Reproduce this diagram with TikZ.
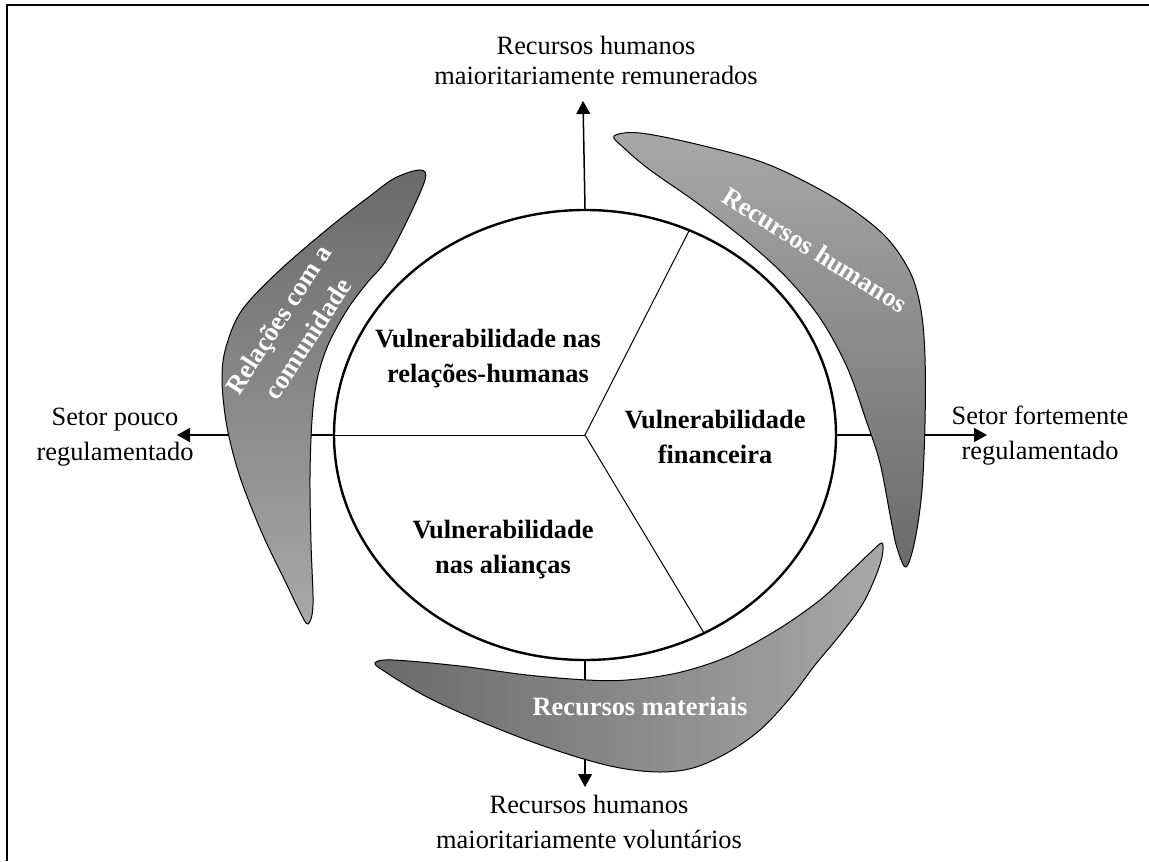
\documentclass[tikz,border=0pt]{standalone}
\usepackage{fontspec}
\setmainfont{Liberation Serif}
\usetikzlibrary{arrows.meta,shapes.geometric}
\definecolor{shadelight}{HTML}{A8A8A8}
\definecolor{shadedark}{HTML}{6A6A6A}
\begin{document}
\begin{tikzpicture}[x=0.5pt,y=-0.5pt,
  lbl/.style={font=\fontsize{13.2}{17.5}\selectfont, align=center, inner sep=0pt},
  vtext/.style={font=\bfseries\fontsize{13.2}{17.5}\selectfont, align=center, inner sep=0pt},
  intext/.style={font=\bfseries\fontsize{13.2}{17.5}\selectfont, align=center, inner sep=0pt, text=white},
  ring/.style={ellipse, draw, line width=1.2pt, fill=white, inner sep=0pt,
    minimum width=251pt, minimum height=225pt},
  spoke/.style={line width=0.5pt},
  axis/.style={line width=0.75pt, -{Triangle[length=6.5pt,width=7pt]}},
  blade/.style={draw, line width=0.5pt}]
\useasboundingbox (0,0) rectangle (1149,861);
% partial frame
\draw[line width=1pt] (7,861) -- (7,5) -- (1149,5);

% central ring and its three sectors
\node[ring] (ring) at (585,435) {};
\draw[spoke] (ring.center) -- (ring.180);
\draw[spoke] (ring.center) -- (ring.63);
\draw[spoke] (ring.center) -- (ring.-59);

% axes
\coordinate (tipN) at (583,101);
\coordinate (tipS) at (585,787);
\coordinate (tipW) at (177,435);
\coordinate (tipE) at (987,435);
\draw[axis] (ring.north) -- (tipN);
\draw[axis] (ring.south) -- (tipS);
\draw[axis] (ring.west) -- (tipW);
\draw[axis] (ring.east) -- (tipE);

% axis labels (anchored on the baseline of their last line)
\node[lbl, anchor=base, font=\fontsize{13.2}{15}\selectfont] (lblN) at (596,85) {Recursos humanos\\maioritariamente remunerados};
\node[lbl, anchor=base] (lblS) at (589,848) {Recursos humanos\\maioritariamente voluntários};
\node[lbl, anchor=base] (lblW) at (115,460) {Setor pouco\\regulamentado};
\node[lbl, anchor=base] (lblE) at (1040,459) {Setor fortemente\\regulamentado};

% sector texts
\node[vtext, anchor=base] (vf) at (715,463) {Vulnerabilidade\\financeira};
\node[vtext, anchor=base] (va) at (503,573) {Vulnerabilidade\\nas alianças};
\node[vtext, anchor=base] (vr) at (488,382) {Vulnerabilidade nas\\relações-humanas};

% right blade
\path[blade, top color=shadelight, bottom color=shadedark]
  plot[smooth cycle, tension=0.55] coordinates {
  (614,136) (640,133) (700,145) (767,164) (833,197) (883,234) (910,272)
  (921,310) (925,357) (925,423) (922,490) (915,540) (906,567)
  (897,548) (891,520) (880,463) (866,420) (847,367) (820,318) (787,278)
  (750,244) (700,205) (650,170) (624,148)};
% left blade
\path[blade, top color=shadedark, bottom color=shadelight]
  plot[smooth cycle, tension=0.55] coordinates {
  (420,170) (395,178) (370,196) (330,227) (280,270) (242,310) (226,347)
  (222,380) (227,427) (240,477) (262,533) (286,583) (300,612) (308,624)
  (313,605) (311,543) (310,477) (312,420) (317,380) (328,345) (347,310)
  (367,283) (385,262) (405,225) (425,180)};
% bottom blade
\path[blade, left color=shadedark, right color=shadelight]
  plot[smooth cycle, tension=0.55] coordinates {
  (375,663) (393,660) (460,666) (527,675) (587,680) (627,680) (677,673)
  (727,657) (777,630) (820,600) (850,572) (870,553) (882,543)
  (882,557) (875,578) (862,605) (840,635) (815,665) (790,698) (760,730)
  (727,753) (693,768) (660,772) (620,768) (577,757) (527,740) (477,720)
  (427,697) (387,673)};

% blade texts
\node[intext, rotate=-32] (bRH) at (815,250) {Recursos humanos};
\node[intext, rotate=57] (bRC) at (293,329) {Relações com a\\comunidade};
\node[intext, anchor=base] (bRM) at (640,715) {Recursos materiais};
\end{tikzpicture}
\end{document}
